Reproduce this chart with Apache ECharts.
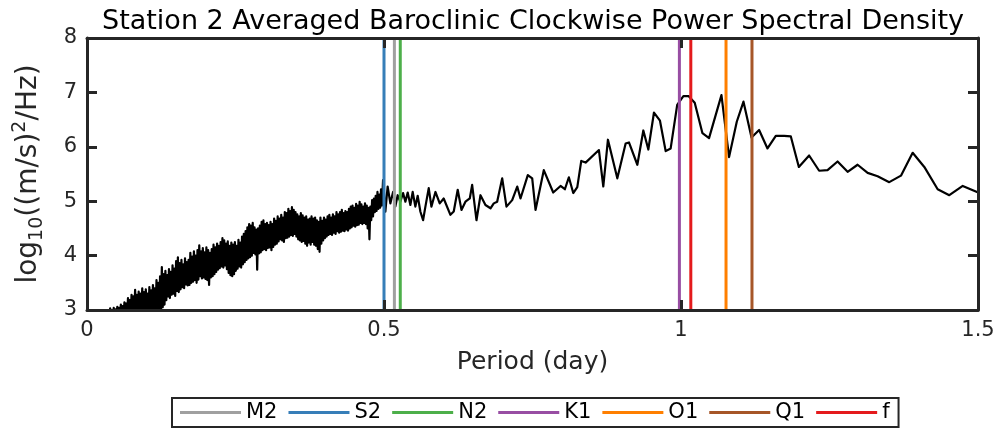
<!DOCTYPE html>
<html>
<head>
<meta charset="utf-8">
<script src="https://cdn.jsdelivr.net/npm/echarts@6/dist/echarts.min.js"></script>
<style>
html,body{margin:0;padding:0;background:#fff;}
#chart{width:1002px;height:431px;}
</style>
</head>
<body>
<div id="chart"></div>
<script>
// ---- data ----
const titleText = 'Station 2 Averaged Baroclinic Clockwise Power Spectral Density';
const xTickValues = [0, 0.5, 1, 1.5];
const yTickValues = [3, 4, 5, 6, 7, 8];

// period (day) of each spectral estimate
const periodDays = [
 0.0210,0.0225,0.0240,0.0255,0.0270,0.0285,0.0300,0.0315,0.0330,0.0345,
 0.0360,0.0375,0.0390,0.0405,0.0420,0.0435,0.0450,0.0465,0.0480,0.0495,
 0.0510,0.0525,0.0540,0.0555,0.0570,0.0585,0.0600,0.0615,0.0630,0.0645,
 0.0660,0.0675,0.0690,0.0705,0.0720,0.0735,0.0750,0.0765,0.0780,0.0795,
 0.0810,0.0825,0.0840,0.0855,0.0870,0.0885,0.0900,0.0915,0.0930,0.0945,
 0.0960,0.0975,0.0990,0.1005,0.1020,0.1035,0.1050,0.1065,0.1080,0.1095,
 0.1110,0.1125,0.1140,0.1155,0.1170,0.1185,0.1200,0.1215,0.1230,0.1245,
 0.1260,0.1275,0.1290,0.1305,0.1320,0.1335,0.1350,0.1365,0.1380,0.1395,
 0.1410,0.1425,0.1440,0.1455,0.1470,0.1485,0.1500,0.1515,0.1530,0.1545,
 0.1560,0.1575,0.1590,0.1605,0.1620,0.1635,0.1650,0.1665,0.1680,0.1695,
 0.1710,0.1725,0.1740,0.1755,0.1770,0.1785,0.1800,0.1815,0.1830,0.1845,
 0.1860,0.1875,0.1890,0.1905,0.1920,0.1935,0.1950,0.1965,0.1980,0.1995,
 0.2010,0.2025,0.2040,0.2055,0.2070,0.2085,0.2100,0.2115,0.2130,0.2145,
 0.2160,0.2175,0.2190,0.2205,0.2220,0.2235,0.2250,0.2265,0.2280,0.2295,
 0.2310,0.2325,0.2340,0.2355,0.2370,0.2385,0.2400,0.2415,0.2430,0.2445,
 0.2460,0.2475,0.2490,0.2505,0.2520,0.2535,0.2550,0.2565,0.2580,0.2595,
 0.2610,0.2625,0.2640,0.2655,0.2670,0.2685,0.2700,0.2715,0.2730,0.2745,
 0.2760,0.2775,0.2790,0.2805,0.2820,0.2835,0.2850,0.2865,0.2880,0.2895,
 0.2910,0.2925,0.2940,0.2955,0.2970,0.2985,0.3000,0.3015,0.3030,0.3045,
 0.3060,0.3075,0.3090,0.3105,0.3120,0.3135,0.3150,0.3165,0.3180,0.3195,
 0.3210,0.3225,0.3240,0.3255,0.3270,0.3285,0.3300,0.3315,0.3330,0.3345,
 0.3360,0.3375,0.3390,0.3405,0.3420,0.3435,0.3450,0.3465,0.3480,0.3495,
 0.3510,0.3525,0.3540,0.3555,0.3570,0.3585,0.3600,0.3615,0.3630,0.3645,
 0.3660,0.3675,0.3690,0.3705,0.3720,0.3735,0.3750,0.3765,0.3780,0.3795,
 0.3810,0.3825,0.3840,0.3855,0.3870,0.3885,0.3900,0.3915,0.3930,0.3945,
 0.3960,0.3975,0.3990,0.4005,0.4020,0.4035,0.4050,0.4065,0.4080,0.4095,
 0.4110,0.4125,0.4140,0.4155,0.4170,0.4185,0.4200,0.4215,0.4230,0.4245,
 0.4260,0.4275,0.4290,0.4305,0.4320,0.4335,0.4350,0.4365,0.4380,0.4395,
 0.4410,0.4425,0.4440,0.4455,0.4470,0.4485,0.4500,0.4515,0.4530,0.4545,
 0.4560,0.4575,0.4590,0.4605,0.4620,0.4635,0.4650,0.4665,0.4680,0.4695,
 0.4710,0.4725,0.4740,0.4755,0.4770,0.4785,0.4800,0.4815,0.4830,0.4845,
 0.4860,0.4875,0.4890,0.4905,0.4920,0.4935,0.4950,0.4965,
 0.4984,0.5023,0.5061,0.5107,0.5153,0.5191,0.5230,0.5275,0.5321,0.5360,
 0.5399,0.5444,0.5483,0.5528,0.5567,0.5612,0.5658,0.5697,0.5753,0.5798,
 0.5866,0.5938,0.6005,0.6118,0.6174,0.6241,0.6304,0.6371,0.6444,0.6484,
 0.6557,0.6624,0.6708,0.6793,0.6848,0.6905,0.6990,0.7062,0.7158,0.7243,
 0.7298,0.7421,0.7495,0.7551,0.7690,0.7849,0.7972,0.8045,0.8112,0.8186,
 0.8254,0.8321,0.8394,0.8618,0.8692,0.8770,0.8928,0.9068,0.9124,0.9265,
 0.9366,0.9450,0.9545,0.9646,0.9742,0.9826,0.9936,1.0040,1.0130,1.0231,
 1.0361,1.0472,1.0681,1.0809,1.0939,1.1052,1.1187,1.1315,1.1456,1.1596,
 1.1736,1.1849,1.1984,1.2157,1.2326,1.2467,1.2636,1.2805,1.2973,1.3142,
 1.3310,1.3506,1.3703,1.3900,1.4096,1.4321,1.4517,1.4743,1.5023
];

// log10 of clockwise PSD ((m/s)^2/Hz)
const log10Psd = [
 2.93,2.86,2.95,2.85,2.97,2.88,2.94,2.86,2.99,2.87,
 3.00,2.88,3.03,2.90,2.98,2.87,3.04,2.89,3.01,2.88,
 3.06,2.90,3.04,2.88,3.10,2.91,3.07,2.89,3.14,2.92,
 3.12,2.90,3.22,2.93,3.18,2.91,3.28,2.94,3.25,2.92,
 3.37,2.95,3.28,2.92,3.34,2.96,3.30,2.93,3.40,2.97,
 3.33,2.94,3.38,2.98,3.30,2.95,3.42,2.99,3.36,2.96,
 3.46,3.00,3.40,2.97,3.55,3.02,3.50,2.98,3.62,3.03,
 3.79,3.05,3.66,3.10,3.72,3.18,3.64,3.25,3.75,3.22,
 3.70,3.28,3.82,3.30,3.76,3.26,3.90,3.35,3.97,3.33,
 3.86,3.38,3.92,3.42,3.84,3.40,3.95,3.47,3.88,3.45,
 3.92,3.46,4.05,3.50,3.98,3.52,4.08,3.55,4.00,3.50,
 4.10,3.56,4.19,3.62,4.08,3.58,4.14,3.60,4.06,3.57,
 4.15,3.55,4.10,3.46,4.05,3.60,4.12,3.62,4.20,3.66,
 4.15,3.70,4.22,3.74,4.18,3.77,4.25,3.80,4.32,3.78,
 4.28,3.82,4.22,3.75,4.26,3.68,4.18,3.64,4.24,3.62,
 4.20,3.66,4.25,3.72,4.18,3.76,4.29,3.80,4.24,3.78,
 4.35,3.84,4.40,3.88,4.45,3.92,4.52,3.95,4.58,3.97,
 4.55,4.00,4.60,4.05,4.52,4.02,4.48,3.74,4.50,4.04,
 4.55,4.06,4.62,4.10,4.65,4.12,4.58,4.10,4.60,4.14,
 4.56,4.15,4.62,4.10,4.58,4.16,4.68,4.20,4.64,4.22,
 4.72,4.26,4.68,4.30,4.75,4.28,4.70,4.25,4.80,4.32,
 4.78,4.33,4.86,4.35,4.82,4.38,4.89,4.36,4.84,4.40,
 4.80,4.35,4.76,4.30,4.72,4.28,4.78,4.25,4.74,4.27,
 4.70,4.22,4.72,4.18,4.66,4.24,4.68,4.20,4.72,4.25,
 4.68,4.20,4.70,4.18,4.65,4.12,4.62,4.07,4.70,4.22,
 4.64,4.28,4.70,4.32,4.66,4.35,4.72,4.38,4.75,4.40,
 4.70,4.38,4.76,4.42,4.72,4.40,4.80,4.45,4.76,4.42,
 4.80,4.44,4.84,4.46,4.78,4.45,4.82,4.48,4.80,4.46,
 4.86,4.50,4.90,4.52,4.92,4.55,4.88,4.53,4.95,4.56,
 4.92,4.57,4.99,4.60,4.94,4.58,4.90,4.60,4.96,4.58,
 4.92,4.50,4.88,4.30,4.90,4.65,5.02,4.72,5.05,4.80,
 5.10,4.82,5.17,4.86,5.12,4.88,5.22,4.92,
 5.39,4.81,5.27,4.96,5.17,4.90,5.11,4.99,5.15,4.99,
 5.16,4.93,5.17,4.90,5.10,4.81,4.65,4.90,5.24,4.90,
 5.17,4.96,5.05,4.75,4.81,5.21,4.84,4.99,5.05,5.30,
 4.65,5.11,4.93,4.87,4.96,4.99,5.42,4.90,5.02,5.27,
 5.05,5.48,5.42,4.84,5.57,5.16,5.28,5.22,5.44,5.15,
 5.26,5.74,5.71,5.94,5.27,6.13,5.42,6.06,6.08,5.67,
 6.30,5.95,6.63,6.48,5.92,5.97,6.77,6.93,6.93,6.81,
 6.25,6.16,6.95,5.81,6.46,6.83,6.17,6.31,5.97,6.20,
 6.20,6.19,5.63,5.84,5.56,5.57,5.73,5.54,5.67,5.52,
 5.46,5.35,5.47,5.89,5.63,5.22,5.11,5.28,5.15
];

// tidal constituents and inertial frequency (period in days)
const constituentNames   = ['M2', 'S2', 'N2', 'K1', 'O1', 'Q1', 'f'];
const constituentPeriods = [0.5175, 0.5, 0.5274, 0.9973, 1.0758, 1.1195, 1.0165];
const constituentColors  = ['#a0a0a0', '#377eb8', '#4daf4a', '#984ea3', '#ff7f00', '#a65628', '#e41a1c'];

// ---- chart ----
const AX = '#262626';
const FONT = 'DejaVu Sans';
const yMin = yTickValues[0], yMax = yTickValues[yTickValues.length - 1];
const xMin = xTickValues[0], xMax = xTickValues[xTickValues.length - 1];

const curve = periodDays.map((p, i) => [p, log10Psd[i]]);

const series = [{
  name: 'psd',
  type: 'line',
  data: curve,
  showSymbol: false,
  symbol: 'none',
  clip: true,
  z: 3,
  lineStyle: { color: '#000', width: 2.2, join: 'round' },
  itemStyle: { color: '#000' },
  animation: false
}];
constituentNames.forEach((n, i) => {
  series.push({
    name: n,
    type: 'line',
    data: [[constituentPeriods[i], yMin], [constituentPeriods[i], yMax]],
    showSymbol: false,
    symbol: 'none',
    z: 4,
    color: constituentColors[i],
    lineStyle: { color: constituentColors[i], width: 3 },
    animation: false
  });
});

const axisCommon = {
  axisLine: { show: true, onZero: false, lineStyle: { color: AX, width: 3 } },
  axisTick: { show: true, inside: true, length: 10, lineStyle: { color: AX, width: 3 } },
  splitLine: { show: false },
  z: 10
};

const option = {
  animation: false,
  backgroundColor: '#fff',
  title: {
    text: titleText,
    left: 97,
    top: 3,
    textStyle: { fontFamily: FONT, fontSize: 27, fontWeight: 'normal', color: '#000' }
  },
  grid: { left: 87, right: 24, top: 38, bottom: 121, containLabel: false },
  legend: {
    data: constituentNames,
    orient: 'horizontal',
    left: 172,
    top: 398,
    icon: 'rect',
    itemWidth: 61,
    itemHeight: 3,
    itemGap: 11,
    padding: [4, 9, 4, 8],
    borderColor: AX,
    borderWidth: 2,
    textStyle: { fontFamily: FONT, fontSize: 21, color: '#000' }
  },
  xAxis: [
    Object.assign({}, axisCommon, {
      type: 'value', position: 'bottom', min: xMin, max: xMax, interval: 0.5,
      name: 'Period (day)', nameLocation: 'middle', nameGap: 40,
      nameTextStyle: { fontFamily: FONT, fontSize: 25, color: AX },
      axisLabel: { show: true, margin: 10, fontFamily: FONT, fontSize: 21, color: AX,
        formatter: v => String(v) }
    }),
    Object.assign({}, axisCommon, {
      type: 'value', position: 'top', min: xMin, max: xMax, interval: 0.5,
      axisLabel: { show: false }
    })
  ],
  yAxis: [
    Object.assign({}, axisCommon, {
      type: 'value', position: 'left', min: yMin, max: yMax, interval: 1,
      name: '{a|log}{b|10}{a|((m/s)}{c|2}{a|/Hz)}',
      nameLocation: 'middle', nameGap: 40,
      nameTextStyle: {
        fontFamily: FONT, fontSize: 28, color: AX,
        rich: {
          a: { fontFamily: FONT, fontSize: 28, color: AX, lineHeight: 36 },
          b: { fontFamily: FONT, fontSize: 19, color: AX, lineHeight: 22, verticalAlign: 'bottom' },
          c: { fontFamily: FONT, fontSize: 19, color: AX, lineHeight: 22, verticalAlign: 'top' }
        }
      },
      axisLabel: { show: true, margin: 10, fontFamily: FONT, fontSize: 21, color: AX }
    }),
    Object.assign({}, axisCommon, {
      type: 'value', position: 'right', min: yMin, max: yMax, interval: 1,
      axisLabel: { show: false }
    })
  ],
  series: series
};

const chart = echarts.init(document.getElementById('chart'), null, { renderer: 'canvas' });
chart.setOption(option);
</script>
</body>
</html>
